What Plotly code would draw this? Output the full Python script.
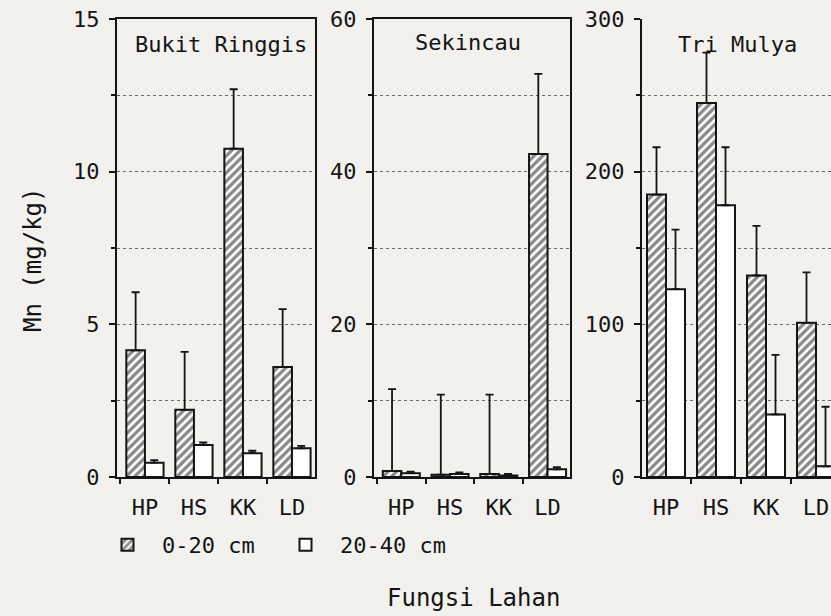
import plotly.graph_objects as go

categories = ["HP", "HS", "KK", "LD"]

# Bukit Ringgis
br_0_20 = [4.15, 2.2, 10.75, 3.6]
br_0_20_err = [1.9, 1.9, 1.95, 1.9]
br_20_40 = [0.47, 1.05, 0.78, 0.94]
br_20_40_err = [0.08, 0.08, 0.08, 0.08]

# Sekincau
sk_0_20 = [0.8, 0.3, 0.4, 42.3]
sk_0_20_err = [10.7, 10.5, 10.4, 10.5]
sk_20_40 = [0.5, 0.4, 0.2, 1.0]
sk_20_40_err = [0.2, 0.2, 0.2, 0.3]

# Tri Mulya
tm_0_20 = [185, 245, 132, 101]
tm_0_20_err = [31, 33, 32.5, 33]
tm_20_40 = [123, 178, 41, 7]
tm_20_40_err = [39, 38, 39, 39]

panel_titles = ["Bukit Ringgis", "Sekincau", "Tri Mulya"]
y_ranges = [[0, 15], [0, 60], [0, 300]]
y_ticks = [[0, 5, 10, 15], [0, 20, 40, 60], [0, 100, 200, 300]]
y_minor = [2.5, 10, 50]
legend_names = ["0-20 cm", "20-40 cm"]

FONT = "DejaVu Sans Mono"
INK = "#141414"
BG = "#f2f1ee"

W, H = 831, 616
def px(x):
    return x / W
def py(y):
    return 1 - y / H

x_domains = [[px(117), px(315)], [px(374), px(570)], [px(642), 1.0]]
x_ranges = [[-0.57, 3.47], [-0.56, 3.46], [-0.48, 3.30]]
y_domain = [py(477), py(19)]

data = [
    (br_0_20, br_0_20_err, br_20_40, br_20_40_err),
    (sk_0_20, sk_0_20_err, sk_20_40, sk_20_40_err),
    (tm_0_20, tm_0_20_err, tm_20_40, tm_20_40_err),
]

fig = go.Figure()
for i, (a, ae, b, be) in enumerate(data):
    xa = "x" if i == 0 else f"x{i+1}"
    ya = "y" if i == 0 else f"y{i+1}"
    fig.add_trace(go.Bar(
        x=categories, y=a, name=legend_names[0], xaxis=xa, yaxis=ya,
        showlegend=(i == 0), legendgroup="a",
        marker=dict(color="white", line=dict(color=INK, width=2),
                    pattern=dict(shape="/", fgcolor=INK, bgcolor="white", size=6, solidity=0.55)),
        error_y=dict(type="data", symmetric=False, array=ae, arrayminus=[0] * len(ae),
                     color=INK, thickness=1.8, width=4),
    ))
    fig.add_trace(go.Bar(
        x=categories, y=b, name=legend_names[1], xaxis=xa, yaxis=ya,
        showlegend=(i == 0), legendgroup="b",
        marker=dict(color="white", line=dict(color=INK, width=2)),
        error_y=dict(type="data", symmetric=False, array=be, arrayminus=[0] * len(be),
                     color=INK, thickness=1.8, width=4),
    ))

layout = dict(
    width=W, height=H,
    margin=dict(l=0, r=0, t=0, b=0, autoexpand=False),
    paper_bgcolor=BG, plot_bgcolor=BG,
    barmode="group", bargap=0.24, bargroupgap=0.0,
    font=dict(family=FONT, size=22, color=INK),
    legend=dict(orientation="h", x=px(93), y=py(545), xanchor="left", yanchor="middle",
                bgcolor="rgba(0,0,0,0)", font=dict(size=22, family=FONT, color=INK),
                itemwidth=59, entrywidth=104, tracegroupgap=0),
)
for i in range(3):
    k = "" if i == 0 else str(i + 1)
    layout[f"xaxis{k}"] = dict(
        domain=x_domains[i], range=x_ranges[i], anchor="y" if i == 0 else f"y{i+1}",
        showline=True, linecolor=INK, linewidth=2, mirror=(i < 2),
        ticks="outside", ticklen=5, tickwidth=1.5, tickcolor=INK, tickson="boundaries",
        showgrid=False, ticklabelstandoff=10, automargin=False,
        tickfont=dict(size=22, family=FONT, color=INK), fixedrange=True,
    )
    layout[f"yaxis{k}"] = dict(
        domain=y_domain, range=y_ranges[i], anchor="x" if i == 0 else f"x{i+1}",
        tickmode="array", tickvals=y_ticks[i],
        showline=True, linecolor=INK, linewidth=2, mirror=(i < 2),
        ticks="outside", ticklen=6, tickwidth=1.5, tickcolor=INK,
        showgrid=True, gridcolor="#6a6a6a", griddash="dot", gridwidth=1,
        minor=dict(dtick=y_minor[i], showgrid=True, gridcolor="#6a6a6a", griddash="dot",
                   ticks="outside", ticklen=4, tickcolor=INK),
        ticklabelstandoff=5, zeroline=False, automargin=False,
        tickfont=dict(size=22, family=FONT, color=INK), fixedrange=True,
    )

fig.update_layout(**layout)

ann = [
    dict(text=panel_titles[0], x=px(133), y=py(45), xanchor="left"),
    dict(text=panel_titles[1], x=px(468), y=py(43), xanchor="center"),
    dict(text=panel_titles[2], x=px(737), y=py(45), xanchor="center"),
]
for a in ann:
    fig.add_annotation(xref="paper", yref="paper", yanchor="middle", showarrow=False,
                       font=dict(size=22, family=FONT, color=INK), **a)

fig.add_annotation(text="Mn (mg/kg)", xref="paper", yref="paper", x=px(33), y=py(260),
                   xanchor="center", yanchor="middle",
                   textangle=-90, showarrow=False, font=dict(size=24, family=FONT, color=INK))
fig.add_annotation(text="Fungsi Lahan", xref="paper", yref="paper", x=px(473), y=py(598),
                   xanchor="center", yanchor="middle",
                   showarrow=False, font=dict(size=24, family=FONT, color=INK))

fig.write_html(
    "out.html",
    config={"displayModeBar": False},
    post_script="document.body.style.margin='0';document.body.style.background='#f2f1ee';document.body.style.overflow='hidden';",
)
